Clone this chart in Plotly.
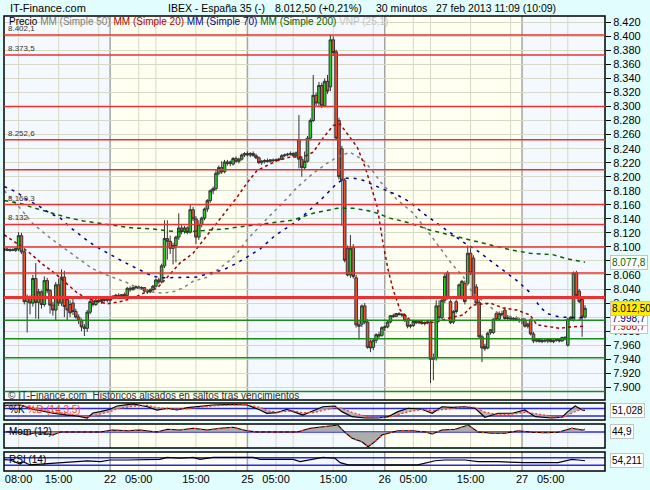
import plotly.graph_objects as go

# velas de 30 minutos: (apertura, maximo, minimo, cierre)
feb21 = [
    (8096, 8098, 8094, 8097), (8097, 8099, 8094, 8095), (8095, 8098, 8093, 8096),
    (8096, 8098, 8094, 8095), (8095, 8099, 8093, 8098), (8097, 8121, 8094, 8116),
    (8116, 8120, 8090, 8093), (8093, 8096, 8018, 8022), (8022, 8032, 7978, 8028),
    (8028, 8031, 8004, 8020), (8020, 8060, 8015, 8055), (8055, 8077, 7998, 8021),
    (8021, 8040, 7997, 8036), (8036, 8038, 8012, 8018), (8018, 8058, 8015, 8052),
    (8052, 8056, 8034, 8038), (8038, 8040, 8005, 8017), (8017, 8022, 8002, 8010),
    (8010, 8050, 7995, 8046), (8046, 8055, 8016, 8020), (8020, 8068, 8016, 8057),
    (8057, 8066, 8000, 8015), (8025, 8030, 7995, 8010), (8018, 8024, 8000, 8006),
    (8020, 8026, 8003, 8008), (8008, 8012, 7998, 8000), (8000, 8004, 7990, 7995),
    (7995, 7998, 7980, 7986), (7986, 7990, 7973, 7984), (7984, 8010, 7979, 8007),
    (8007, 8026, 8004, 8022), (8022, 8025, 8015, 8018), (8018, 8027, 8016, 8024),
    (8024, 8028, 8020, 8022), (8022, 8027, 8019, 8025), (8025, 8029, 8022, 8024),
    (8024, 8028, 8021, 8026),
]
feb22 = [
    (8024, 8028, 8021, 8027), (8027, 8031, 8025, 8030), (8030, 8033, 8027, 8031),
    (8031, 8034, 8028, 8029), (8029, 8033, 8027, 8032), (8032, 8035, 8029, 8031),
    (8031, 8043, 8030, 8041), (8041, 8044, 8036, 8039), (8039, 8044, 8038, 8042),
    (8042, 8045, 8040, 8043), (8043, 8045, 8040, 8041), (8041, 8044, 8039, 8042),
    (8042, 8043, 8036, 8037), (8037, 8040, 8033, 8036), (8036, 8041, 8034, 8039),
    (8039, 8046, 8037, 8044), (8044, 8055, 8042, 8053), (8053, 8056, 8047, 8050),
    (8050, 8076, 8048, 8073), (8073, 8138, 8070, 8112), (8112, 8138, 8082, 8108),
    (8108, 8116, 8090, 8098), (8098, 8106, 8075, 8102), (8102, 8116, 8078, 8114),
    (8114, 8148, 8110, 8127), (8127, 8131, 8118, 8122), (8122, 8130, 8119, 8127),
    (8127, 8129, 8118, 8121), (8121, 8160, 8119, 8153), (8153, 8157, 8137, 8140),
    (8140, 8144, 8104, 8114), (8114, 8138, 8110, 8132), (8132, 8143, 8128, 8141),
    (8141, 8156, 8138, 8154), (8154, 8168, 8150, 8166), (8166, 8182, 8163, 8180),
    (8180, 8186, 8175, 8183), (8183, 8210, 8180, 8205), (8205, 8216, 8202, 8213),
    (8213, 8222, 8204, 8207), (8207, 8224, 8205, 8221), (8221, 8224, 8216, 8219),
    (8219, 8223, 8215, 8221), (8218, 8228, 8216, 8226), (8226, 8229, 8220, 8222),
    (8222, 8227, 8219, 8225), (8225, 8233, 8223, 8231), (8231, 8235, 8228, 8233),
]
feb25 = [
    (8233, 8236, 8229, 8231), (8231, 8235, 8228, 8233), (8233, 8236, 8229, 8230),
    (8230, 8233, 8225, 8227), (8227, 8229, 8218, 8220), (8220, 8224, 8217, 8222),
    (8222, 8225, 8219, 8223), (8223, 8226, 8220, 8222), (8222, 8225, 8220, 8224),
    (8224, 8226, 8221, 8223), (8223, 8226, 8221, 8224), (8224, 8227, 8222, 8225),
    (8225, 8232, 8224, 8230), (8230, 8233, 8228, 8231), (8231, 8234, 8229, 8232),
    (8232, 8236, 8230, 8233), (8233, 8235, 8228, 8230), (8230, 8236, 8227, 8234),
    (8253, 8288, 8212, 8225), (8225, 8228, 8200, 8213), (8213, 8236, 8210, 8222),
    (8222, 8258, 8220, 8255), (8255, 8283, 8252, 8280), (8280, 8345, 8278, 8316),
    (8316, 8320, 8300, 8305), (8305, 8335, 8300, 8330), (8330, 8334, 8298, 8301),
    (8301, 8340, 8299, 8336), (8336, 8345, 8318, 8322), (8328, 8402, 8322, 8395),
    (8395, 8400, 8372, 8377), (8378, 8381, 8252, 8255), (8280, 8284, 8196, 8200),
    (8240, 8244, 8130, 8195), (8195, 8198, 8078, 8081), (8098, 8102, 8058, 8060),
    (8060, 8117, 8056, 8098), (8099, 8104, 8055, 8058), (8056, 8060, 7985, 7989),
    (7989, 7996, 7968, 7987), (7990, 8018, 7986, 8016), (8016, 8020, 7990, 7993),
    (7993, 7997, 7955, 7957), (7965, 7968, 7950, 7956), (7957, 7970, 7953, 7967),
    (7967, 7977, 7963, 7975), (7975, 7979, 7970, 7973), (7974, 7987, 7972, 7985),
]
feb26 = [
    (7985, 7988, 7980, 7986), (7986, 7995, 7984, 7993), (7993, 8003, 7991, 8002),
    (8002, 8005, 7999, 8001), (8001, 8006, 8000, 8005), (8005, 8007, 8002, 8004),
    (8004, 8006, 8000, 8003), (8003, 8004, 7993, 7995), (7995, 7998, 7984, 7987),
    (7987, 7990, 7984, 7988), (7988, 7995, 7986, 7994), (7994, 7996, 7990, 7992),
    (7992, 7995, 7990, 7993), (7993, 7995, 7989, 7991), (7991, 7994, 7988, 7992),
    (7992, 7995, 7990, 7993), (7993, 7995, 7906, 7940), (7940, 7948, 7910, 7942),
    (7942, 8024, 7938, 8016), (8016, 8024, 7996, 7999), (7999, 8026, 7997, 8024),
    (8024, 8062, 8020, 8058), (8063, 8066, 8025, 8027), (8022, 8025, 7990, 7992),
    (7993, 8010, 7990, 8008), (8022, 8025, 8005, 8008), (8029, 8048, 8026, 8046),
    (8029, 8053, 8025, 8051), (8048, 8052, 8018, 8022), (8048, 8102, 8045, 8091),
    (8091, 8098, 8060, 8063), (8084, 8088, 8025, 8027), (8043, 8047, 8018, 8020),
    (8021, 8025, 7970, 7972), (7972, 7975, 7936, 7956), (7958, 7962, 7952, 7955),
    (7956, 7979, 7954, 7977), (7978, 7983, 7975, 7982), (7978, 7998, 7976, 7997),
    (8005, 8008, 7995, 7997), (7997, 8008, 7995, 8005), (8005, 8009, 8001, 8003),
    (8010, 8014, 7996, 7998), (7998, 8003, 7995, 7999), (7999, 8002, 7995, 7997),
    (7997, 8000, 7994, 7998), (7998, 8001, 7995, 7996), (7996, 7999, 7992, 7995),
]
feb27 = [
    (7995, 7999, 7990, 7996), (7996, 7998, 7985, 7987), (7987, 7992, 7984, 7990),
    (7996, 7998, 7974, 7976), (7976, 7979, 7963, 7966), (7966, 7970, 7964, 7968),
    (7968, 7970, 7964, 7965), (7965, 7969, 7963, 7967), (7967, 7970, 7964, 7966),
    (7966, 7969, 7963, 7968), (7968, 7970, 7964, 7965), (7965, 7968, 7963, 7967),
    (7967, 7970, 7965, 7968), (7968, 7970, 7964, 7966), (7966, 7972, 7965, 7971),
    (7971, 7973, 7967, 7969), (7960, 7999, 7958, 7997), (7997, 8001, 7995, 8000),
    (7996, 8065, 7994, 8063), (8063, 8066, 8028, 8031), (8037, 8040, 8020, 8022),
    (8025, 8028, 7972, 8000), (8000, 8017, 7998, 8012.5),
]
# hora de la primera vela de cada sesion (horas desde el 22-feb 00:00, sin fin de semana)
session_start = [-18.5, 0, 24, 48, 72]

# medias moviles (hora, valor)
ma20_t = [-18.5, -16.8, -14.0, -11.9, -9.6, -5.8, -4.0, -1.7, -0.5, 1.7, 4.0, 5.8, 8.2, 10.0,
          12.2, 14.5, 16.3, 18.7, 20.4, 22.2, 24.1, 25.7, 29.2, 31.5, 33.7, 35.5, 37.2, 39.0,
          40.2, 41.4, 43.2, 44.6, 45.8, 46.7, 47.7, 48.6, 49.5, 50.7, 52.4, 54.7, 57.1, 59.4,
          61.7, 63.4, 66.4, 68.7, 71.1, 73.4, 74.6, 76.9, 78.6, 80.4, 83.0]
ma20 = [8117, 8108, 8091, 8076, 8062, 8035, 8026, 8021, 8019, 8022, 8027, 8034, 8041, 8057,
        8077, 8091, 8110, 8134, 8153, 8171, 8193, 8209, 8223, 8228, 8228, 8235, 8255, 8273,
        8275, 8262, 8242, 8213, 8181, 8157, 8105, 8067, 8038, 8010, 7996, 7992, 7993, 7999,
        8003, 8017, 8020, 8013, 8010, 8003, 7989, 7986, 7984, 7986, 7987]
ma50_t = [-18.5, -15.4, -13.5, -10.5, -7.5, -5.2, -3.1, 0, 3.0, 4.7, 7.0, 9.3, 11.4, 12.8,
          14.5, 17.0, 18.7, 20.4, 22.2, 23.9, 28.0, 30.2, 32.7, 35.5, 37.9, 39.7, 41.9, 44.2,
          46.0, 47.2, 50.2, 53.0, 55.9, 58.2, 59.9, 61.7, 63.4, 65.9, 68.2, 70.4, 73.9, 76.9,
          80.4, 83.0]
ma50 = [8180, 8152, 8133, 8113, 8095, 8082, 8069, 8058, 8049, 8042, 8036, 8034, 8037, 8042,
        8051, 8057, 8067, 8077, 8091, 8110, 8145, 8163, 8185, 8205, 8219, 8228, 8235, 8224,
        8207, 8193, 8167, 8148, 8118, 8092, 8074, 8058, 8034, 8018, 8003, 8000, 7996, 7995,
        7996, 7997]
ma70_t = [-18.5, -16.3, -14.5, -12.8, -10.5, -8.7, -7.0, -5.2, -3.5, -1.7, 0, 2.3, 4.0, 5.8,
          7.5, 9.3, 13.5, 15.2, 17.5, 19.7, 22.2, 23.9, 26.2, 28.8, 32.9, 36.7, 39.7, 41.1,
          42.5, 44.2, 46.0, 47.2, 50.2, 52.4, 54.7, 57.1, 59.4, 61.7, 64.1, 66.4, 68.7, 71.1,
          73.4, 75.1, 76.4, 78.6, 83.0]
ma70 = [8186, 8178, 8167, 8160, 8148, 8141, 8128, 8117, 8106, 8097, 8089, 8079, 8072, 8065,
        8058, 8056, 8056, 8057, 8063, 8067, 8077, 8086, 8097, 8116, 8138, 8166, 8191, 8198,
        8198, 8195, 8188, 8184, 8174, 8164, 8148, 8134, 8120, 8107, 8095, 8081, 8066, 8052,
        8035, 8015, 8005, 8000, 7999]
ma200_t = [-18.5, -15.7, -13.5, -10.5, -7.5, -4.7, -1.7, 1.2, 4.0, 7.0, 10.0, 12.8, 15.7, 20.4,
           23.9, 28.0, 31.8, 35.5, 39.7, 42.5, 44.9, 46.7, 48.9, 52.4, 55.9, 59.4, 62.9, 66.4,
           69.9, 73.4, 77.4, 79.9, 83.0]
ma200 = [8166, 8162, 8156, 8149, 8142, 8137, 8133, 8130, 8127, 8126, 8123, 8121, 8123, 8126,
         8130, 8134, 8138, 8148, 8155, 8155, 8152, 8148, 8141, 8134, 8124, 8117, 8110, 8103,
         8096, 8091, 8089, 8083, 8078]

# soportes y resistencias
red_levels = [8402.1, 8373.5, 8300, 8252.6, 8210, 8160.3, 8132, 8100, 8063]
main_level = 8028
green_levels = [7995.5, 7969, 7942, 7894]
level_labels = ["8.402,1", "8.373,5", "8.252,6", "8.160,3", "8.132"]
level_label_values = [8402.1, 8373.5, 8252.6, 8160.3, 8132]

# indicadores
stoch_t = [-18.5, -15.7, -13.5, -11.7, -10.0, -7.5, -5.8, -4.0, -3.0, -1.7, 0, 1.2, 4.0, 6.5,
           8.2, 10.0, 11.7, 13.5, 15.7, 18.0, 21.5, 23.9, 26.2, 27.4, 29.2, 30.9, 32.0, 33.7,
           35.5, 37.2, 39.3, 40.5, 42.3, 44.6, 46.8, 48.6, 50.3, 52.1, 54.5, 56.3, 58.0, 59.8,
           62.0, 63.8, 65.5, 67.8, 70.3, 72.5, 74.3, 77.2, 79.0, 80.0, 81.3, 82.5, 83.0]
stoch_k = [85, 88, 59, 43, 32, 20, 14, 0, 34, 43, 59, 81, 95, 76, 54, 66, 54, 70, 81, 88, 92, 88,
           54, 32, 36, 59, 43, 20, 49, 76, 81, 43, 9, 0, 0, 9, 43, 66, 59, 32, 76, 72, 76, 66, 5,
           32, 32, 54, 9, 0, 5, 43, 81, 54, 51]
stoch_d = [80, 85, 72, 56, 42, 28, 18, 10, 14, 26, 44, 62, 80, 86, 70, 62, 60, 62, 72, 82, 89, 90,
           72, 50, 40, 44, 48, 36, 36, 52, 70, 66, 38, 12, 2, 4, 20, 42, 58, 50, 56, 66, 74, 72,
           40, 22, 26, 38, 30, 12, 4, 18, 44, 60, 58]
mom_t = [-18.5, -18.0, -15.7, -14.5, -13.5, -11.7, -10.0, -8.7, -6.5, -4.0, -1.7, 0.5, 3.0, 5.2,
         8.2, 10.0, 12.2, 14.5, 17.0, 19.2, 21.5, 23.9, 25.7, 28.0, 30.2, 32.7, 35.0, 37.2, 39.8,
         41.1, 42.3, 44.0, 45.1, 46.3, 47.5, 48.6, 50.3, 52.8, 55.1, 56.3, 58.0, 60.3, 62.6, 64.3,
         66.8, 69.0, 71.3, 73.8, 76.0, 78.3, 80.7, 82.5, 83.0]
mom = [5, 3, -7, -30, -13, -7, -30, 0, -3, 0, 0, 20, 13, 20, 0, 27, 20, 37, 20, 37, 47, 13, 0, 0,
       3, 0, 37, 53, 70, -7, -63, -97, -147, -97, -30, -13, 13, 13, 0, -20, 20, 27, 70, 0, -13,
       -13, 13, -3, -7, -3, 37, 20, 27]
rsi_t = [-18.5, -17.5, -15.7, -15.2, -14.0, -11.7, -9.3, -6.5, -4.0, -1.7, 0, 3.0, 5.8, 8.7, 10.0,
         12.2, 14.5, 15.7, 18.0, 21.5, 25.0, 26.2, 28.5, 32.0, 33.2, 35.0, 37.2, 39.3, 40.2, 41.6,
         43.3, 48.1, 53.8, 56.8, 58.5, 62.0, 64.3, 67.8, 72.5, 78.3, 80.7, 81.8, 83.0]
rsi = [60, 58, 37, 49, 32, 37, 44, 49, 53, 49, 58, 58, 58, 61, 72, 67, 72, 61, 72, 72, 72, 61, 61,
       61, 49, 61, 72, 67, 44, 32, 32, 32, 32, 54, 58, 58, 49, 49, 44, 44, 61, 58, 54]

# eje horizontal
x_ticks = [-16, -9, -2, 0, 5, 8, 15, 22, 24, 29, 32, 39, 46, 48, 53, 56, 63, 70, 72, 77, 80]
x_labels = ["08:00", "15:00", "", "22", "05:00", "", "15:00", "", "25", "05:00", "", "15:00", "",
            "26", "05:00", "", "15:00", "", "27", "05:00", ""]
day_starts = [0, 24, 48, 72]
price_ticks = list(range(7900, 8421, 20))

t, o, h, l, c = [], [], [], [], []
for start, rows in zip(session_start, [feb21, feb22, feb25, feb26, feb27]):
    for k, (a, b, d, e) in enumerate(rows):
        t.append(start + 0.5 * k)
        o.append(a); h.append(b); l.append(d); c.append(e)

fig = go.Figure()
fig.add_trace(go.Candlestick(
    x=t, open=o, high=h, low=l, close=c, whiskerwidth=0, hoverinfo="skip",
    increasing=dict(line=dict(color="#333333", width=1), fillcolor="#2ccc2c"),
    decreasing=dict(line=dict(color="#333333", width=1), fillcolor="#f25232")))

for xs, ys, col, dash in [(ma50_t, ma50, "#808080", "3px,4px"),
                          (ma200_t, ma200, "#006400", "4px,4px"),
                          (ma70_t, ma70, "#00008c", "3px,5px"),
                          (ma20_t, ma20, "#a00000", "3px,3px")]:
    fig.add_trace(go.Scatter(x=xs, y=ys, mode="lines", hoverinfo="skip",
                             line=dict(color=col, width=1.5, dash=dash)))

# estocastico
fig.add_trace(go.Scatter(x=stoch_t, y=stoch_d, yaxis="y2", mode="lines",
                         line=dict(width=0), hoverinfo="skip"))
fig.add_trace(go.Scatter(x=stoch_t, y=stoch_k, yaxis="y2", mode="lines", fill="tonexty",
                         fillcolor="rgba(170,170,170,0.8)", line=dict(color="black", width=1.2),
                         hoverinfo="skip"))
fig.add_trace(go.Scatter(x=stoch_t, y=stoch_d, yaxis="y2", mode="lines", hoverinfo="skip",
                         line=dict(color="#ff3c1e", width=1.3, dash="2px,2px")))
# momento
fig.add_trace(go.Scatter(x=mom_t, y=mom, yaxis="y3", mode="lines", fill="tozeroy",
                         fillcolor="rgba(160,160,160,0.85)", line=dict(color="black", width=1.1),
                         hoverinfo="skip"))
fig.add_trace(go.Scatter(x=mom_t, y=mom, yaxis="y3", mode="lines", hoverinfo="skip",
                         line=dict(color="#ff3c1e", width=1.3, dash="2px,4px")))
# RSI
fig.add_trace(go.Scatter(x=rsi_t, y=rsi, yaxis="y4", mode="lines", hoverinfo="skip",
                         line=dict(color="black", width=1.2)))

grid = "#d8d8c6"
shapes = []
panels = [("y", None), ("y2", [65, 13.5]), ("y3", [0]), ("y4", [70, 30])]
for ax, blue in panels:
    dom = ax + " domain"
    for d0 in [0, 48]:
        shapes.append(dict(type="rect", xref="x", yref=dom, x0=d0, x1=d0 + 24, y0=0, y1=1,
                           fillcolor="#fffff2", line=dict(width=0), layer="below"))
    for v in x_ticks:
        if v not in day_starts:
            shapes.append(dict(type="line", xref="x", yref=dom, x0=v, x1=v, y0=0, y1=1,
                               line=dict(color=grid, width=1), layer="below"))
    for d in day_starts:
        shapes.append(dict(type="line", xref="x", yref=dom, x0=d, x1=d, y0=0, y1=1,
                           line=dict(color="#a4a4a4", width=1.5), layer="below"))
    if blue:
        for v in blue:
            shapes.append(dict(type="line", xref="paper", yref=ax, x0=0, x1=1, y0=v, y1=v,
                               line=dict(color="#2828e6", width=1.5), layer="below"))
    shapes.append(dict(type="rect", xref="paper", yref=dom, x0=0, x1=1, y0=0, y1=1,
                       line=dict(color="black", width=1.5), fillcolor="rgba(0,0,0,0)"))

for v in red_levels:
    shapes.append(dict(type="line", xref="paper", yref="y", x0=0, x1=1, y0=v, y1=v,
                       line=dict(color="#ee3030", width=1.5)))
shapes.append(dict(type="line", xref="paper", yref="y", x0=0, x1=1, y0=main_level, y1=main_level,
                   line=dict(color="#ee3030", width=3)))
for v in green_levels:
    shapes.append(dict(type="line", xref="paper", yref="y", x0=0, x1=1, y0=v, y1=v,
                       line=dict(color="#1a8c1a", width=1.5)))


def py(pix):
    return (471 - pix) / 455


def px(pix):
    return (pix - 4) / 601


ann = []
ann.append(dict(text="IT-Finance.com", x=px(8), y=py(8), font=dict(size=11)))
ann.append(dict(text="IBEX - España 35 (-)", x=px(166), y=py(8), font=dict(size=10.5)))
ann.append(dict(text="8.012,50 (+0,21%)", x=px(273), y=py(8), font=dict(size=10.5)))
ann.append(dict(text="30 minutos", x=px(374), y=py(8), font=dict(size=10.5)))
ann.append(dict(text="27 feb 2013 11:09 (10:09)", x=px(434), y=py(8), font=dict(size=10.5)))
ann.append(dict(
    text="Precio <span style='color:#808080'>MM (Simple 50)</span> "
         "<span style='color:#b00000'>MM (Simple 20)</span> "
         "<span style='color:#0000a0'>MM (Simple 70)</span> "
         "<span style='color:#006400'>MM (Simple 200)</span> "
         "<span style='color:#c4c4c4'>VNP (25,1)</span>",
    x=px(7), y=py(22), font=dict(size=10)))
ann.append(dict(text="© IT-Finance.com  Históricos alisados en saltos tras vencimientos",
                x=px(6), y=py(395), font=dict(size=10, color="#303030")))
ann.append(dict(text="%K <span style='color:#ff3c1e'>%D (14,3,5)</span>", x=px(7), y=py(409),
                font=dict(size=10)))
ann.append(dict(text="Mom (12)", x=px(7), y=py(431), font=dict(size=10)))
ann.append(dict(text="RSI (14)", x=px(7), y=py(459), font=dict(size=10)))
for a in ann:
    a.update(xref="paper", yref="paper", xanchor="left", yanchor="middle", showarrow=False)

for txt, v in zip(level_labels, level_label_values):
    ann.append(dict(text=txt, xref="paper", yref="y", x=0, y=v, xanchor="left", yanchor="bottom",
                    xshift=2, showarrow=False, font=dict(size=8, color="#333333")))

boxes = [("8.077,8", "y", 8077.8, "#006400", "white"),
         ("7.986,7", "y", 7986.7, "#a00000", "white"),
         ("7.998,7", "y", 7998.7, "#00008c", "white"),
         ("8.012,50", "y", 8012.5, "black", "#ffee00"),
         ("51,028", "y2", 51, "black", "white"),
         ("44,9", "y3", 3, "black", "white"),
         ("54,211", "y4", 54.2, "black", "white")]
for txt, ax, v, col, bg in boxes:
    ann.append(dict(text=txt, xref="paper", yref=ax, x=1, y=v, xanchor="left", yanchor="middle",
                    xshift=5, showarrow=False, bgcolor=bg, bordercolor="#c4c4c4", borderwidth=1,
                    borderpad=1, font=dict(size=10, color=col)))

fig.update_layout(
    template="none", width=650, height=490, margin=dict(l=4, r=45, t=16, b=19),
    paper_bgcolor="#e2fdfd", plot_bgcolor="#f3f9ff", showlegend=False,
    font=dict(family="Liberation Sans, Arial, sans-serif", size=11, color="black"),
    boxgap=0.05, boxgroupgap=0.05, shapes=shapes, annotations=ann,
    xaxis=dict(range=[-18.55, 86.5], anchor="y4", tickvals=x_ticks, ticktext=x_labels,
               showgrid=False, ticks="", zeroline=False, showline=False,
               rangeslider=dict(visible=False), automargin=False, tickfont=dict(size=11)),
    yaxis=dict(domain=[py(400), 1], range=[7881.9, 8429], side="right", anchor="x",
               tickvals=price_ticks, ticktext=[f"{v:,}".replace(",", ".") for v in price_ticks],
               ticks="outside", ticklen=5, tickcolor="black", showgrid=True, gridcolor=grid,
               zeroline=False, showline=False, automargin=False, tickfont=dict(size=11)),
    yaxis2=dict(domain=[py(420), py(403)], range=[-13.5, 101.4], anchor="x", showgrid=False,
                showticklabels=False, zeroline=False, ticks=""),
    yaxis3=dict(domain=[py(448), py(424)], range=[-160, 80], anchor="x", showgrid=False,
                showticklabels=False, zeroline=False, ticks=""),
    yaxis4=dict(domain=[0, py(452)], range=[0, 100], anchor="x", showgrid=False,
                showticklabels=False, zeroline=False, ticks=""),
)

fig.write_html("out.html", config={"displayModeBar": False},
               post_script="document.body.style.margin='0';")
